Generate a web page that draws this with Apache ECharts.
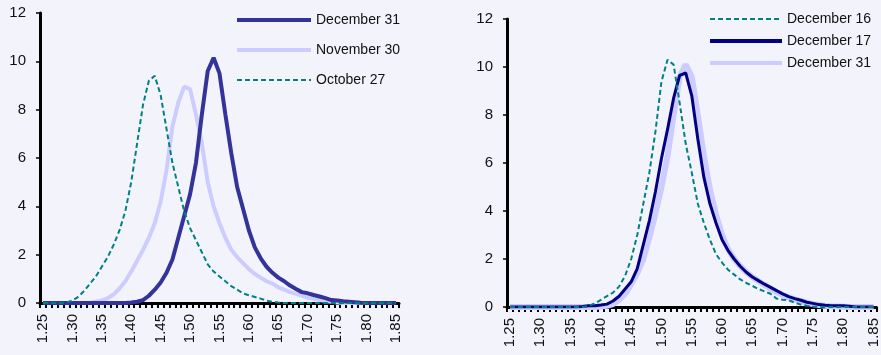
<!DOCTYPE html>
<html>
<head>
<meta charset="utf-8">
<script src="https://cdn.jsdelivr.net/npm/echarts@6/dist/echarts.min.js"></script>
<style>
html,body{margin:0;padding:0;background:#F3F4FB;}
#c{width:881px;height:355px;}
</style>
</head>
<body>
<div id="c"></div>
<script>
var categories = ['1.25','1.26','1.27','1.28','1.29','1.30','1.31','1.32','1.33','1.34',
'1.35','1.36','1.37','1.38','1.39','1.40','1.41','1.42','1.43','1.44',
'1.45','1.46','1.47','1.48','1.49','1.50','1.51','1.52','1.53','1.54',
'1.55','1.56','1.57','1.58','1.59','1.60','1.61','1.62','1.63','1.64',
'1.65','1.66','1.67','1.68','1.69','1.70','1.71','1.72','1.73','1.74',
'1.75','1.76','1.77','1.78','1.79','1.80','1.81','1.82','1.83','1.84','1.85'];

var yTicks = [0, 2, 4, 6, 8, 10, 12];

// Left panel
var dec31 = [0,0,0,0,0,0,0,0,0,0,
0,0,0,0,0,0.02,0.05,0.12,0.3,0.55,
0.85,1.25,1.8,2.7,3.6,4.5,5.8,7.8,9.6,10.15,
9.5,7.8,6.2,4.8,3.9,3.0,2.3,1.85,1.5,1.25,
1.05,0.9,0.72,0.58,0.45,0.4,0.33,0.27,0.2,0.12,
0.1,0.07,0.05,0.03,0.01,0,0,0,0,0,0];

var nov30 = [0,0,0,0,0,0,0,0,0,0.05,
0.1,0.2,0.35,0.6,0.9,1.3,1.75,2.2,2.7,3.3,
4.2,5.5,7.3,8.3,8.95,8.85,7.8,6.6,5.0,4.0,
3.3,2.7,2.2,1.9,1.65,1.4,1.2,1.05,0.9,0.8,
0.65,0.55,0.45,0.38,0.3,0.22,0.17,0.12,0.08,0.05,
0.02,0,0,0,0,0,0,0,0,0,0];

var oct27 = [0,0,0,0,0.02,0.1,0.25,0.5,0.8,1.1,
1.5,1.9,2.4,3.0,3.8,5.0,6.6,8.2,9.2,9.4,
8.6,7.2,5.8,4.8,3.8,3.1,2.6,2.1,1.6,1.3,
1.1,0.9,0.7,0.55,0.4,0.32,0.25,0.18,0.1,0.05,
0.02,0,0,0,0,0,0,0,0,0,
0,0,0,0,0,0,0,0,0,0,0];

// Right panel
var dec16 = [0,0,0,0,0,0,0,0,0,0,
0,0,0,0.05,0.15,0.3,0.45,0.6,0.85,1.3,
2.0,3.0,4.3,5.6,7.3,9.4,10.3,10.1,8.5,6.8,
5.6,4.3,3.5,2.8,2.2,1.85,1.55,1.35,1.15,1.0,
0.88,0.75,0.65,0.55,0.35,0.3,0.28,0.18,0.1,0.05,
0.02,0,0,0,0,0,0,0,0,0,0];

var dec17 = [0,0,0,0,0,0,0,0,0,0,
0,0,0.02,0.05,0.05,0.08,0.12,0.25,0.45,0.75,
1.05,1.6,2.6,3.6,4.8,6.2,7.4,8.7,9.65,9.75,
8.8,7.0,5.4,4.3,3.5,2.8,2.35,2.0,1.7,1.45,
1.25,1.1,0.95,0.82,0.68,0.55,0.43,0.35,0.28,0.2,
0.15,0.1,0.07,0.05,0.05,0.05,0.03,0,0,0,0];

var dec31b = [0,0,0,0,0,0,0,0,0,0,
0,0,0,0,0,0.02,0.05,0.12,0.3,0.55,
0.95,1.4,2.0,2.9,3.9,5.0,6.3,8.0,9.6,10.1,
9.6,8.0,6.3,4.9,3.85,3.0,2.4,2.0,1.7,1.45,
1.25,1.08,0.92,0.77,0.62,0.5,0.4,0.32,0.25,0.18,
0.12,0.08,0.05,0.03,0.02,0.01,0,0,0,0,0];

var FONT = 'Liberation Sans, Arial, sans-serif';
var HIDE = {color: 'rgba(0,0,0,0)', borderWidth: 0, borderColor: 'rgba(0,0,0,0)'};
var DASH = [5, 3];

function xAxis(gi) {
  return {
    type: 'category', gridIndex: gi, data: categories, boundaryGap: true,
    axisLine: {lineStyle: {color: '#000', width: 3}},
    axisTick: {show: true, interval: 0, length: 5, lineStyle: {color: '#000', width: 2}},
    axisLabel: {interval: 4, rotate: 90, margin: 11, fontSize: 15, color: '#111', fontFamily: FONT},
    splitLine: {show: false}
  };
}
function yAxis(gi) {
  return {
    type: 'value', gridIndex: gi, min: yTicks[0], max: yTicks[yTicks.length - 1], interval: 2,
    axisLine: {show: true, lineStyle: {color: '#000', width: 3}},
    axisTick: {show: true, length: 4, lineStyle: {color: '#000', width: 1.5}},
    axisLabel: {margin: 14, fontSize: 15, color: '#111', fontFamily: FONT},
    splitLine: {show: false}
  };
}
function lineSeries(name, axis, data, color, width, dashed) {
  return {
    name: name, type: 'line', xAxisIndex: axis, yAxisIndex: axis, data: data,
    symbol: 'none', showSymbol: false,
    lineStyle: {color: color, width: width, type: dashed ? DASH : 'solid'},
    itemStyle: {color: color}
  };
}

var chart = echarts.init(document.getElementById('c'), null, {renderer: 'canvas'});
chart.setOption({
  backgroundColor: '#F3F4FB',
  animation: false,
  grid: [
    {left: 40, top: 13, width: 359, height: 290},
    {left: 507, top: 19, width: 372, height: 288}
  ],
  xAxis: [xAxis(0), xAxis(1)],
  yAxis: [yAxis(0), yAxis(1)],
  legend: [
    {
      orient: 'vertical', left: 235, top: 13, padding: 0, itemWidth: 74, itemHeight: 14, itemGap: 16,
      itemStyle: HIDE,
      textStyle: {fontSize: 14, color: '#111', fontFamily: FONT},
      data: [
        {name: 'December 31', lineStyle: {width: 4}},
        {name: 'November 30', lineStyle: {width: 4}},
        {name: 'October 27', lineStyle: {width: 2}}
      ]
    },
    {
      orient: 'vertical', left: 708, top: 12, padding: 0, itemWidth: 72, itemHeight: 14, itemGap: 8,
      itemStyle: HIDE,
      textStyle: {fontSize: 14, color: '#111', fontFamily: FONT},
      data: [
        {name: 'December 16', lineStyle: {width: 2}},
        {name: 'December 17', lineStyle: {width: 4}},
        {name: 'December 31 ', lineStyle: {width: 4}}
      ]
    }
  ],
  series: [
    lineSeries('November 30', 0, nov30, '#CCCCFF', 4, false),
    lineSeries('December 31', 0, dec31, '#333399', 4, false),
    lineSeries('October 27', 0, oct27, '#008080', 2, true),
    lineSeries('December 31 ', 1, dec31b, '#CCCCFF', 6, false),
    lineSeries('December 17', 1, dec17, '#000080', 3, false),
    lineSeries('December 16', 1, dec16, '#008080', 2, true)
  ]
});
</script>
</body>
</html>
